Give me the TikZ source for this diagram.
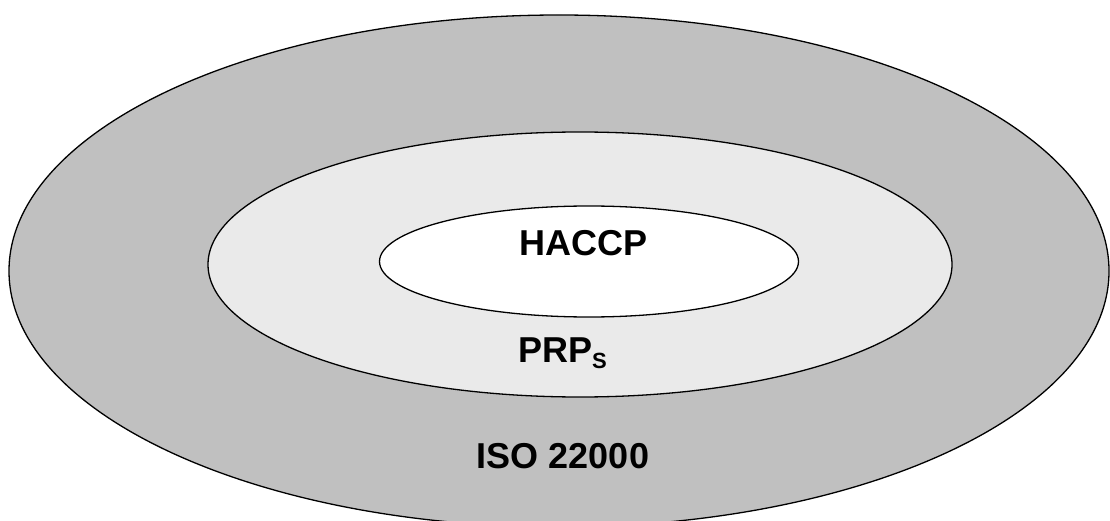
\documentclass[tikz,border=0pt]{standalone}
\usepackage{fontspec}
\setmainfont{Liberation Sans}
\definecolor{outergray}{HTML}{C0C0C0}
\definecolor{midgray}{HTML}{EAEAEA}
\tikzset{
  ring/.style={draw=black, line width=1.3pt},
  lbl/.style={inner sep=0pt, anchor=base, font=\fontsize{36}{40}\selectfont\bfseries}
}
\begin{document}
\begin{tikzpicture}[x=1pt,y=-1pt]
\useasboundingbox (0,0) rectangle (1110,521);
\clip (0,0) rectangle (1110,521);
\fill[white] (0,0) rectangle (1110,521);
\path[ring, fill=outergray] (559,271) ellipse [x radius=550, y radius=256];
\path[ring, fill=midgray] (580,264.5) ellipse [x radius=372, y radius=132.5];
\path[ring, fill=white] (589,261.5) ellipse [x radius=209.5, y radius=55.5];
\node[lbl] (haccp) at (583.5,255) {HACCP};
\node[lbl, anchor=base west] (prps) at (518,362) {PRP{\fontsize{22}{22}\selectfont\raisebox{-6pt}{S}}};
\node[lbl] (iso) at (563,468) {ISO 22000};
\end{tikzpicture}
\end{document}
